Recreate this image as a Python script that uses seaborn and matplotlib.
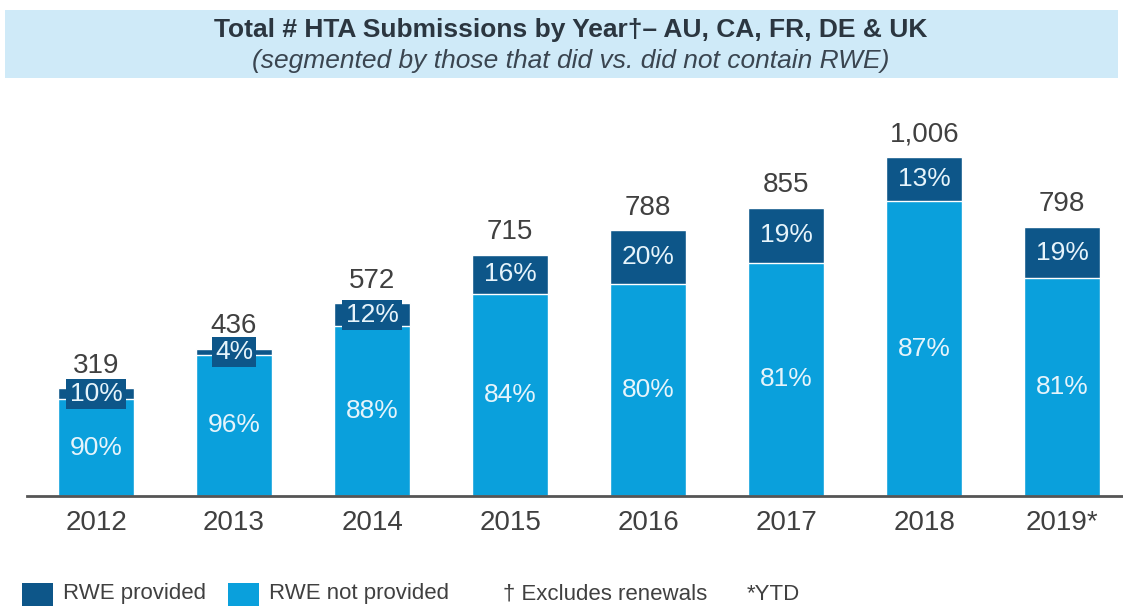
import matplotlib
matplotlib.use('Agg')
import matplotlib.pyplot as plt
from matplotlib.patches import Rectangle
import seaborn as sns
import pandas as pd

# 数据
years = ['2012', '2013', '2014', '2015', '2016', '2017', '2018', '2019*']
totals = [319, 436, 572, 715, 788, 855, 1006, 798]
rwe_pct = [10, 4, 12, 16, 20, 19, 13, 19]          # RWE provided (%)
no_rwe_pct = [90, 96, 88, 84, 80, 81, 87, 81]      # RWE not provided (%)

dark = '#0d5689'
light = '#0aa0dc'
grey = '#404040'

sns.set_theme(style='white')
plt.rcParams['font.family'] = ['Liberation Sans', 'DejaVu Sans']

df = pd.DataFrame({'year': years, 'total': totals,
                   'rwe': [t * p / 100 for t, p in zip(totals, rwe_pct)]})
df['no_rwe'] = df['total'] - df['rwe']

fig = plt.figure(figsize=(11.23, 6.07), dpi=100)
ax = fig.add_axes([27 / 1123, 111 / 607, 1096 / 1123, 396 / 607])

# 堆叠柱状图: 先画总数(深色)，再画未提供RWE部分(浅色)
sns.barplot(data=df, x='year', y='total', color=dark, width=0.55,
            saturation=1, ax=ax)
sns.barplot(data=df, x='year', y='no_rwe', color=light, width=0.55,
            saturation=1, ax=ax)

ax.set_xlim(-0.5, 7.44)
ax.set_ylim(0, 1175)
ax.set_xlabel('')
ax.set_ylabel('')
ax.set_yticks([])
for s in ['top', 'right', 'left']:
    ax.spines[s].set_visible(False)
ax.spines['bottom'].set_color('#555555')
ax.spines['bottom'].set_linewidth(2)
ax.tick_params(axis='x', length=0, labelsize=20, labelcolor=grey, pad=10)

for i, row in df.iterrows():
    # 总数
    ax.annotate(f"{row['total']:,}", (i, row['total']), xytext=(0, 7),
                textcoords='offset points', ha='center', va='bottom',
                fontsize=20, color=grey)
    # 深色部分百分比
    small = rwe_pct[i] < 15
    ax.text(i, row['no_rwe'] + row['rwe'] / 2, f"{rwe_pct[i]}%",
            ha='center', va='center', fontsize=19, color='#e6f4fb',
            bbox=dict(facecolor=dark, edgecolor='none',
                      boxstyle='square,pad=0.12') if small else None)
    # 浅色部分百分比
    ax.text(i, row['no_rwe'] / 2, f"{no_rwe_pct[i]}%", ha='center',
            va='center', fontsize=19, color='#e6f4fb')

# 标题栏
fig.patches.append(Rectangle((5 / 1123, 1 - 78 / 607), 1113 / 1123, 68 / 607,
                             transform=fig.transFigure, facecolor='#cfeaf8',
                             edgecolor='none', zorder=0))
fig.text(0.508, 1 - 30 / 607, 'Total # HTA Submissions by Year\u2020\u2013 AU, CA, FR, DE & UK',
         ha='center', va='center', fontsize=19, fontweight='bold', color='#2b3640')
fig.text(0.508, 1 - 61 / 607, '(segmented by those that did vs. did not contain RWE)',
         ha='center', va='center', fontsize=19, fontstyle='italic', color='#3a4550')

# 图例
ly = 1 - 594 / 607
for x0, c, label in [(22, dark, 'RWE provided'), (228, light, 'RWE not provided')]:
    fig.patches.append(Rectangle((x0 / 1123, ly - 12 / 607), 31 / 1123, 23 / 607,
                                 transform=fig.transFigure, facecolor=c,
                                 edgecolor='none'))
    fig.text((x0 + 41) / 1123, ly, label, ha='left', va='center',
             fontsize=16, color=grey)
fig.text(503 / 1123, ly, '\u2020 Excludes renewals', ha='left', va='center',
         fontsize=16, color=grey)
fig.text(747 / 1123, ly, '*YTD', ha='left', va='center', fontsize=16, color=grey)

fig.savefig('out.png', dpi=100)
